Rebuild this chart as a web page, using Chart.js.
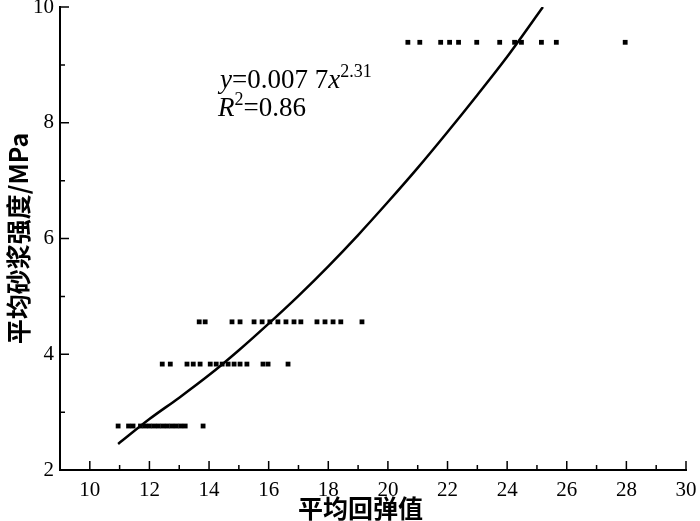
<!DOCTYPE html>
<html>
<head>
<meta charset="utf-8">
<script src="https://cdn.jsdelivr.net/npm/chart.js@4/dist/chart.umd.min.js"></script>
<style>
  html, body { margin: 0; padding: 0; background: #fff; }
  canvas { display: block; }
</style>
</head>
<body>
<canvas id="myChart" width="700" height="521"></canvas>
<script>
// measured points, grouped by strength level (x = rebound value, y = MPa)
const group1X = [10.95, 11.3, 11.45, 11.7, 11.85, 12.0, 12.15, 12.3, 12.45, 12.6, 12.75, 12.9, 13.05, 13.2, 13.8];
const group1Y = 2.76;
const group2X = [12.43, 12.7, 13.26, 13.47, 13.7, 14.04, 14.24, 14.44, 14.64, 14.84, 15.04, 15.27, 15.81, 15.98, 16.65];
const group2Y = 3.83;
const group3X = [13.67, 13.87, 14.77, 15.04, 15.51, 15.78, 16.04, 16.31, 16.58, 16.85, 17.08, 17.62, 17.89, 18.16, 18.42, 19.13];
const group3Y = 4.56;
const group4X = [20.67, 21.07, 21.77, 22.07, 22.37, 22.98, 23.75, 24.25, 24.48, 25.15, 25.65, 27.96];
const group4Y = 9.39;

// fitted curve
const curveX = [10.95, 12, 13, 14, 15, 16, 17, 18, 19, 20, 21, 22, 23, 24, 25.2];
const curveY = [2.45, 2.88, 3.25, 3.64, 4.07, 4.53, 5.01, 5.52, 6.06, 6.63, 7.22, 7.84, 8.48, 9.14, 10.0];

// axis ticks
const xTicks = [10, 12, 14, 16, 18, 20, 22, 24, 26, 28, 30];
const xMinor = [11, 13, 15, 17, 19, 21, 23, 25, 27, 29];
const yTicks = [2, 4, 6, 8, 10];
const yMinor = [3, 5, 7, 9];

const toPoints = (xs, y) => xs.map(x => ({ x: x, y: y }));

// inward tick marks
const tickPlugin = {
  id: "inTicks",
  afterDraw(chart) {
    const ctx = chart.ctx;
    const xs = chart.scales.x, ys = chart.scales.y;
    const area = chart.chartArea;
    ctx.save();
    ctx.strokeStyle = "#000";
    ctx.lineWidth = 1.5;
    ctx.beginPath();
    xTicks.forEach(v => { const p = xs.getPixelForValue(v); ctx.moveTo(p, area.bottom); ctx.lineTo(p, area.bottom - 9); });
    xMinor.forEach(v => { const p = xs.getPixelForValue(v); ctx.moveTo(p, area.bottom); ctx.lineTo(p, area.bottom - 5); });
    yTicks.forEach(v => { const p = ys.getPixelForValue(v); ctx.moveTo(area.left, p); ctx.lineTo(area.left + 9, p); });
    yMinor.forEach(v => { const p = ys.getPixelForValue(v); ctx.moveTo(area.left, p); ctx.lineTo(area.left + 5, p); });
    ctx.stroke();
    ctx.restore();
  }
};

// fit equation text
const equationPlugin = {
  id: "equation",
  afterDraw(chart) {
    const ctx = chart.ctx;
    const xs = chart.scales.x, ys = chart.scales.y;
    let px = xs.getPixelForValue(14.37);
    let py = ys.getPixelForValue(8.6);
    ctx.save();
    ctx.fillStyle = "#000";
    ctx.textBaseline = "alphabetic";
    const part = (txt, font, dy) => {
      ctx.font = font;
      ctx.fillText(txt, px, py + (dy || 0));
      px += ctx.measureText(txt).width;
    };
    part("y", "italic 27px 'Liberation Serif'");
    part("=0.007 7", "27px 'Liberation Serif'");
    part("x", "italic 27px 'Liberation Serif'");
    part("2.31", "18px 'Liberation Serif'", -11);
    px = xs.getPixelForValue(14.3);
    py = ys.getPixelForValue(8.11);
    part("R", "italic 27px 'Liberation Serif'");
    part("2", "18px 'Liberation Serif'", -11);
    part("=0.86", "27px 'Liberation Serif'");
    ctx.restore();
  }
};

const pointStyle = {
  showLine: false,
  pointStyle: "rect",
  pointRadius: 3.4,
  pointHoverRadius: 3.4,
  backgroundColor: "#000",
  borderWidth: 0
};

const ctx = document.getElementById("myChart").getContext("2d");
new Chart(ctx, {
  type: "scatter",
  data: {
    datasets: [
      { ...pointStyle, data: toPoints(group1X, group1Y) },
      { ...pointStyle, data: toPoints(group2X, group2Y) },
      { ...pointStyle, data: toPoints(group3X, group3Y) },
      { ...pointStyle, data: toPoints(group4X, group4Y) },
      {
        data: curveX.map((x, i) => ({ x: x, y: curveY[i] })),
        showLine: true,
        borderColor: "#000",
        borderWidth: 2.5,
        pointRadius: 0,
        cubicInterpolationMode: "monotone"
      }
    ]
  },
  options: {
    responsive: false,
    animation: false,
    layout: { padding: { top: 7, right: 14, bottom: 0, left: 0 } },
    plugins: { legend: { display: false }, tooltip: { enabled: false } },
    scales: {
      x: {
        type: "linear",
        min: 9,
        max: 30,
        afterBuildTicks: s => { s.ticks = xTicks.map(v => ({ value: v })); },
        afterFit: s => { s.height = 51; s.paddingLeft = 0; s.paddingRight = 0; },
        grid: { display: false },
        border: { display: true, color: "#000", width: 2 },
        ticks: { color: "#000", padding: 0, maxRotation: 0, font: { family: "'Liberation Serif'", size: 21 } },
        title: {
          display: true,
          // trailing ideographic space nudges the centred title left, as in the original
          text: "平均回弹值\u3000",
          color: "#000",
          padding: { top: 0, bottom: 0 },
          font: { family: "'Noto Sans CJK SC'", size: 25, weight: "bold", lineHeight: 1.0 }
        }
      },
      y: {
        type: "linear",
        min: 2,
        max: 10,
        afterBuildTicks: s => { s.ticks = yTicks.map(v => ({ value: v })); },
        afterFit: s => { s.width = 60; s.paddingTop = 0; s.paddingBottom = 0; },
        grid: { display: false, drawTicks: false },
        border: { display: true, color: "#000", width: 2 },
        ticks: { color: "#000", padding: 6, font: { family: "'Liberation Serif'", size: 21 } },
        title: {
          display: true,
          text: "平均砂浆强度/MPa",
          color: "#000",
          padding: { top: 3, bottom: 0 },
          font: { family: "'Noto Sans CJK SC'", size: 25, weight: "bold", lineHeight: 1.2 }
        }
      }
    }
  },
  plugins: [tickPlugin, equationPlugin]
});
</script>
</body>
</html>
